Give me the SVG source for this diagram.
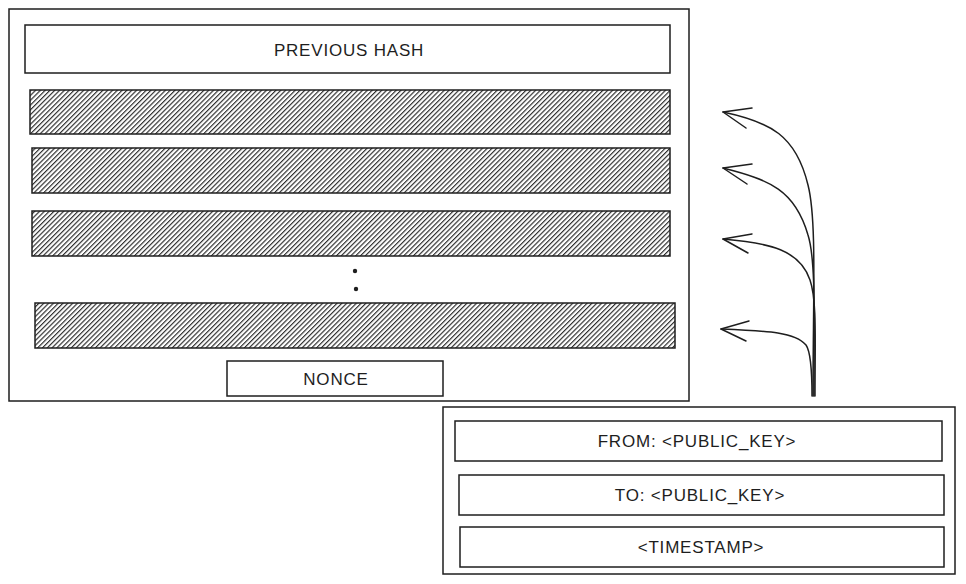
<svg xmlns="http://www.w3.org/2000/svg" width="966" height="584" viewBox="0 0 966 584">
<style>
.box{fill:#fff;stroke:#1e1e1e;stroke-width:1.5}
.hatch{fill:url(#h);stroke:#1e1e1e;stroke-width:1.5}
.t{font-family:"Liberation Sans",Arial,sans-serif;font-size:17px;fill:#1e1e1e;text-anchor:middle;dominant-baseline:central;letter-spacing:0.8px}
.c{fill:none;stroke:#1e1e1e;stroke-width:1.5;stroke-linecap:round}
</style>
<defs>
<pattern id="h" width="3.4" height="3.4" patternUnits="userSpaceOnUse" patternTransform="rotate(45)">
<rect width="3.4" height="3.4" fill="#fff"/>
<line x1="0.6" y1="0" x2="0.6" y2="3.4" stroke="#1e1e1e" stroke-width="1.1"/>
</pattern>
</defs>
<rect width="966" height="584" fill="#fff"/>
<g id="block">
<rect class="box" x="9" y="9" width="680" height="392"/>
</g>
<g id="previous-hash">
<rect class="box" x="25" y="25" width="645" height="48"/>
<text class="t" x="349" y="50">PREVIOUS HASH</text>
</g>
<g id="tx1"><rect class="hatch" x="30" y="90" width="640" height="44"/></g>
<g id="tx2"><rect class="hatch" x="32" y="148" width="638" height="45"/></g>
<g id="tx3"><rect class="hatch" x="32" y="211" width="638" height="45"/></g>
<g id="dots">
<circle cx="355" cy="271" r="2.2" fill="#1e1e1e"/>
<circle cx="356" cy="289" r="2.2" fill="#1e1e1e"/>
</g>
<g id="tx4"><rect class="hatch" x="35" y="303" width="640" height="45"/></g>
<g id="nonce">
<rect class="box" x="227" y="361" width="216" height="35"/>
<text class="t" x="336" y="379">NONCE</text>
</g>
<g id="transaction">
<rect class="box" x="443" y="407" width="512" height="167"/>
</g>
<g id="from">
<rect class="box" x="455" y="421" width="487" height="40"/>
<text class="t" x="697" y="441">FROM: &lt;PUBLIC_KEY&gt;</text>
</g>
<g id="to">
<rect class="box" x="459" y="475" width="485" height="40"/>
<text class="t" x="700" y="495">TO: &lt;PUBLIC_KEY&gt;</text>
</g>
<g id="timestamp">
<rect class="box" x="460" y="527" width="484" height="40"/>
<text class="t" x="701" y="547">&lt;TIMESTAMP&gt;</text>
</g>
<g id="connectors">
<path class="c" d="M813 396 C813 300 817 220 808 185 C796 135 770 122 723 112"/>
<path class="c" d="M723 112 L752 108 M723 112 L746 128"/>
<path class="c" d="M814 396 C814 320 816 260 808 235 C795 190 770 180 723 168"/>
<path class="c" d="M723 168 L752 164 M723 168 L747 184"/>
<path class="c" d="M815 396 C815 340 817 300 810 280 C800 250 770 243 723 239"/>
<path class="c" d="M723 239 L752 234 M723 239 L748 253"/>
<path class="c" d="M812 396 C812 370 811 352 806 345 C795 332 770 331 721 329"/>
<path class="c" d="M721 329 L749 321 M721 329 L746 341"/>
</g>
</svg>
